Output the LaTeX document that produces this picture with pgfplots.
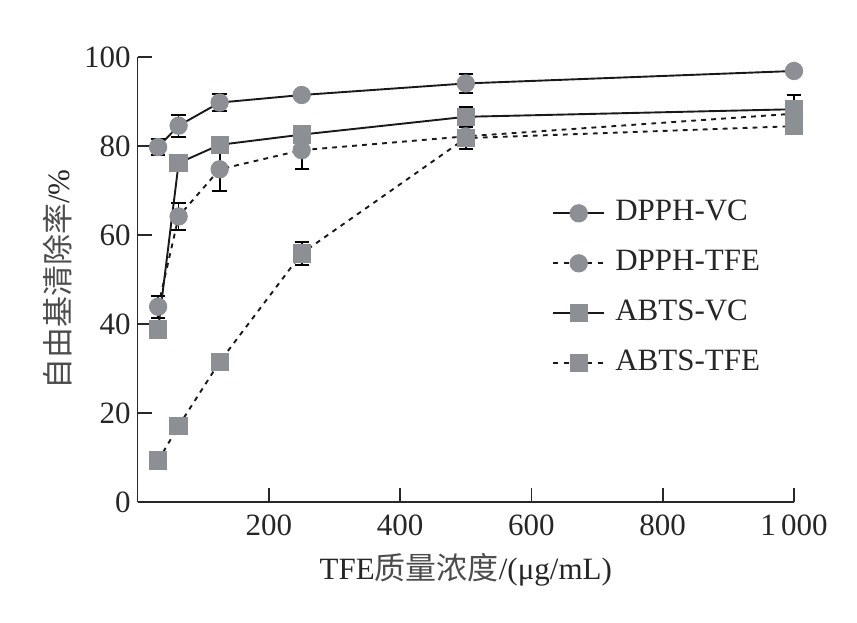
\documentclass[border=0pt]{standalone}
\usepackage{pgfplots}
\pgfplotsset{compat=1.18}
\usepackage{fontspec}
\setmainfont{Liberation Serif}
\newfontfamily\cjk{Noto Sans CJK SC}
\definecolor{mkgray}{RGB}{140,143,147}
\definecolor{axgray}{RGB}{40,40,40}
\begin{document}
\begin{tikzpicture}
\pgfplotsset{
  mystyle/.style={color=black!90, line width=0.95pt, mark size=4.1pt,
    mark options={solid, fill=mkgray, draw=mkgray},
    error bars/y dir=both, error bars/y explicit,
    error bars/error bar style={black, line width=0.85pt, solid},
    error bars/error mark options={rotate=90, mark size=3.6pt, black, line width=1pt, solid}},
}
\begin{axis}[
  at={(68.8pt,60pt)}, anchor=south west,
  scale only axis, width=328.2pt, height=222.4pt,
  xmin=0, xmax=1000, ymin=0, ymax=100,
  axis lines=left, axis line style={-, line width=0.85pt, axgray},
  tick align=inside, major tick length=7pt,
  tick style={line width=0.85pt, axgray},
  xtick={200,400,600,800,1000}, ytick={0,20,40,60,80,100},
  /pgf/number format/assume math mode=true,
  /pgf/number format/1000 sep={\,},
  tick label style={font=\fontsize{15.5}{18}\selectfont, text=black!85},
  xticklabel style={yshift=-3pt},
  label style={font=\fontsize{15.5}{18}\selectfont, text=black!85},
  xlabel={TFE{\cjk\color{black!70}质量浓度}/(μg/mL)},
  ylabel={{\cjk\color{black!70}自由基清除率}/\%},
  xlabel style={at={([yshift=-34pt]axis description cs:0.5,0)}, anchor=center},
  ylabel style={at={([xshift=-40pt]axis description cs:0,0.5)}, anchor=center},
  clip=false,
  legend style={at={(axis description cs:0.631,0.6825)}, anchor=north west,
    draw=none, fill=none, inner sep=0pt, row sep=10.5pt, column sep=5pt,
    font=\fontsize{15.5}{18}\selectfont, text=black!85,
    nodes={inner sep=0pt, text height=11pt, text depth=3.5pt}},
  legend cell align=left,
  legend image code/.code={\draw[mark repeat=2,mark phase=2,#1] plot coordinates {(0cm,0cm) (0.45cm,0cm) (0.9cm,0cm)};},
]
% DPPH-TFE
\addplot[mystyle, dash pattern=on 2.4pt off 2.6pt, mark=*, forget plot] coordinates {
 (31.25,43.9) +- (0,2.5)
 (62.5,64.2) +- (0,3.1)
 (125,74.8) +- (0,4.9)
 (250,79.1) +- (0,4.2)
 (500,82.2) +- (0,2.8)
 (1000,87.3) +- (0,0)
};
% ABTS-TFE
\addplot[mystyle, dash pattern=on 2.4pt off 2.6pt, mark=square*, forget plot] coordinates {
 (31.25,9.3) +- (0,0)
 (62.5,17.1) +- (0,0)
 (125,31.5) +- (0,0)
 (250,55.9) +- (0,2.6)
 (500,81.8) +- (0,0)
 (1000,84.5) +- (0,0)
};
% DPPH-VC
\addplot[mystyle, solid, mark=*, forget plot] coordinates {
 (31.25,79.8) +- (0,1.7)
 (62.5,84.6) +- (0,2.5)
 (125,89.8) +- (0,2.0)
 (250,91.5) +- (0,0)
 (500,94.1) +- (0,2.2)
 (1000,96.9) +- (0,0)
};
% ABTS-VC
\addplot[mystyle, solid, mark=square*, forget plot] coordinates {
 (31.25,38.8) +- (0,0)
 (62.5,76.2) +- (0,0)
 (125,80.3) +- (0,0)
 (250,82.6) +- (0,0)
 (500,86.6) +- (0,2.2)
 (1000,88.3) +- (0,3.2)
};
\addlegendimage{black!90, line width=0.95pt, solid, mark=*, mark size=4.1pt, mark options={solid, fill=mkgray, draw=mkgray}}
\addlegendentry{DPPH-VC}
\addlegendimage{black!90, line width=0.95pt, dash pattern=on 2.4pt off 3.2pt, mark=*, mark size=4.1pt, mark options={solid, fill=mkgray, draw=mkgray}}
\addlegendentry{DPPH-TFE}
\addlegendimage{black!90, line width=0.95pt, solid, mark=square*, mark size=4.1pt, mark options={solid, fill=mkgray, draw=mkgray}}
\addlegendentry{ABTS-VC}
\addlegendimage{black!90, line width=0.95pt, dash pattern=on 2.4pt off 3.2pt, mark=square*, mark size=4.1pt, mark options={solid, fill=mkgray, draw=mkgray}}
\addlegendentry{ABTS-TFE}
\end{axis}
\pgfresetboundingbox
\path[use as bounding box] (0,0) rectangle (428.5pt,311pt);
\end{tikzpicture}
\end{document}
